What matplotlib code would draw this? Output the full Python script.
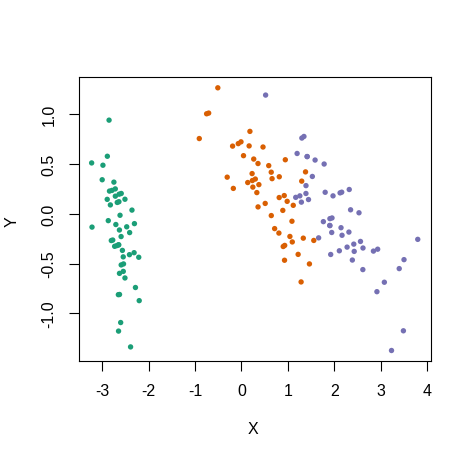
import matplotlib
matplotlib.use("Agg")
import matplotlib.pyplot as plt

plt.rcParams['font.family'] = ['Liberation Sans', 'DejaVu Sans']
plt.rcParams['axes.unicode_minus'] = False

# Principal component scores (PC1 -> X, PC2 -> Y) per group
setosa_x = [-2.684, -2.714, -2.889, -2.745, -2.729, -2.281, -2.821, -2.626, -2.886, -2.673,
            -2.507, -2.613, -2.786, -3.224, -2.645, -2.386, -2.624, -2.648, -2.200, -2.588,
            -2.310, -2.544, -3.216, -2.303, -2.356, -2.507, -2.469, -2.562, -2.640, -2.632,
            -2.587, -2.410, -2.649, -2.599, -2.637, -2.866, -2.625, -2.801, -2.981, -2.590,
            -2.770, -2.849, -2.997, -2.406, -2.210, -2.715, -2.538, -2.840, -2.543, -2.703]
setosa_y = [-0.320, 0.177, 0.145, 0.318, -0.327, -0.741, 0.089, -0.163, 0.578, 0.114,
            -0.645, -0.015, 0.235, 0.511, -1.179, -1.338, -0.811, -0.312, -0.873, -0.514,
            -0.391, -0.433, -0.134, -0.099, 0.037, 0.146, -0.131, -0.368, -0.312, 0.197,
            0.204, -0.411, -0.813, -1.093, 0.121, -0.069, -0.599, -0.269, 0.488, -0.229,
            -0.264, 0.941, 0.342, -0.189, -0.437, 0.250, -0.504, 0.228, -0.579, -0.108]

versicolor_x = [1.285, 0.932, 1.464, 0.183, 1.088, 0.642, 1.095, -0.749, 1.044, -0.009,
                -0.508, 0.512, 0.265, 0.985, -0.174, 0.928, 0.660, 0.236, 0.945, 0.045,
                1.116, 0.358, 1.298, 0.922, 0.715, 0.900, 1.332, 1.558, 0.813, -0.306,
                -0.068, -0.190, 0.136, 1.380, 0.588, 0.807, 1.221, 0.815, 0.246, 0.166,
                0.465, 0.891, 0.230, -0.705, 0.357, 0.332, 0.376, 0.643, -0.907, 0.299]
versicolor_y = [-0.685, -0.318, -0.504, 0.828, -0.075, 0.418, -0.283, 1.005, -0.228, 0.723,
                1.266, 0.104, 0.550, 0.125, 0.255, -0.467, 0.353, 0.334, 0.543, 0.584,
                0.085, 0.069, 0.328, 0.183, -0.149, -0.329, -0.245, -0.268, 0.163, 0.368,
                0.705, 0.680, 0.314, 0.421, 0.484, -0.194, -0.408, 0.372, 0.268, 0.682,
                0.671, 0.034, 0.404, 1.012, 0.505, 0.213, 0.293, -0.018, 0.756, 0.349]

virginica_x = [2.531, 1.415, 2.617, 1.972, 2.350, 3.397, 0.521, 2.933, 2.321, 2.917,
               1.662, 1.803, 2.166, 1.346, 1.586, 1.905, 1.950, 3.487, 3.796, 1.301,
               2.428, 1.199, 3.500, 1.389, 2.275, 2.614, 1.258, 1.291, 2.124, 2.388,
               2.842, 3.231, 2.159, 1.444, 1.781, 3.077, 2.144, 1.905, 1.169, 2.108,
               2.314, 1.922, 1.415, 2.563, 2.419, 1.944, 1.527, 1.764, 1.901, 1.390]
virginica_y = [0.010, 0.575, -0.344, 0.180, 0.040, -0.551, 1.193, -0.356, 0.244, -0.783,
               -0.242, 0.216, -0.216, 0.777, 0.540, -0.119, -0.042, -1.176, -0.257, 0.761,
               -0.378, 0.606, -0.461, 0.204, -0.335, -0.561, 0.180, 0.117, 0.210, -0.465,
               -0.375, -1.374, 0.217, 0.143, 0.500, -0.688, -0.140, -0.049, 0.165, -0.372,
               -0.184, -0.409, 0.575, -0.278, -0.305, -0.188, 0.375, -0.079, -0.117, 0.283]

group_colors = ['#1B9E77', '#D95F02', '#7570B3']
x_ticks = [-3, -2, -1, 0, 1, 2, 3, 4]
y_ticks = [-1.0, -0.5, 0.0, 0.5, 1.0]
y_tick_labels = ['-1.0', '-0.5', '0.0', '0.5', '1.0']

W, H = 471, 460
fig = plt.figure(figsize=(W / 100, H / 100), dpi=100)
ax = fig.add_axes([78.6 / W, 1 - 362 / H, (430.8 - 78.6) / W, (362 - 78.3) / H])

groups = [(setosa_x, setosa_y), (versicolor_x, versicolor_y), (virginica_x, virginica_y)]
for (gx, gy), col in zip(groups, group_colors):
    ax.scatter(gx, gy, s=15, c=col, edgecolors='none', zorder=3)

ax.margins(x=0.04, y=0.04)

fs = 11.52
ax.set_xticks(x_ticks)
ax.set_xticklabels([str(t) for t in x_ticks], fontsize=fs)
ax.set_yticks(y_ticks)
ax.set_yticklabels(y_tick_labels, fontsize=fs, rotation=90, va='center')

for sp in ax.spines.values():
    sp.set_linewidth(0.8)
    sp.set_color('black')
ax.tick_params(axis='both', direction='out', length=6.9, width=0.8, colors='black')
ax.tick_params(axis='x', pad=9)
ax.tick_params(axis='y', pad=9)

fig.text(253.3 / W, 1 - 430 / H, 'X', ha='center', va='center', fontsize=fs)
fig.text(11.7 / W, 1 - 221.7 / H, 'Y', ha='center', va='center', fontsize=fs, rotation=90)

fig.savefig('out.png', dpi=100)
